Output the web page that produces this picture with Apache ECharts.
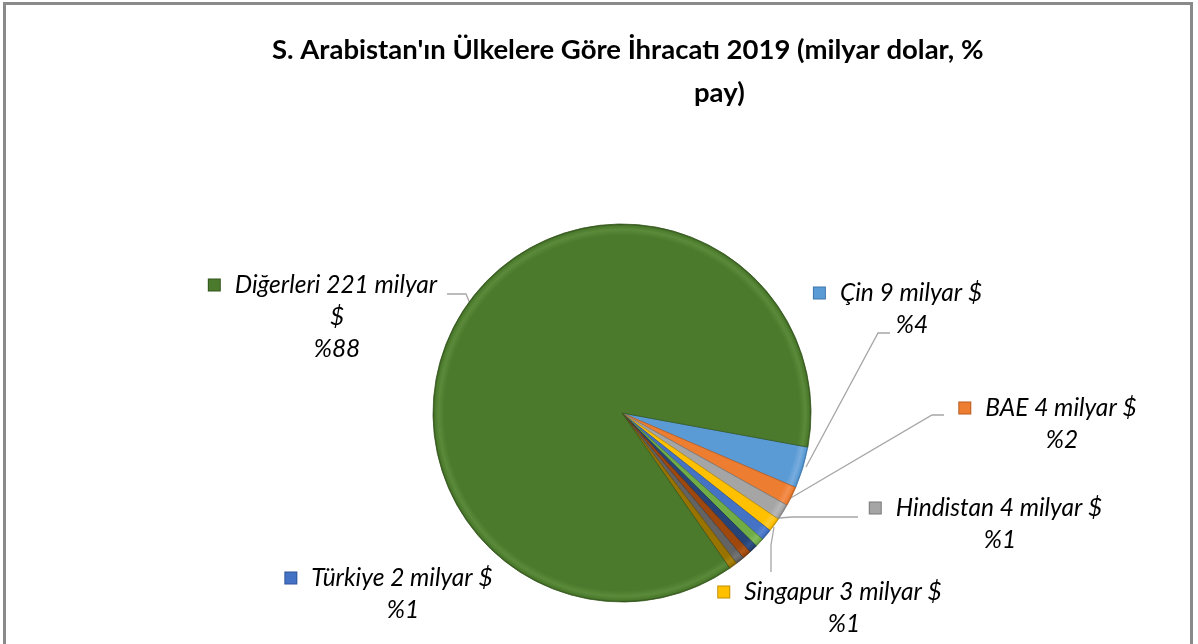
<!DOCTYPE html>
<html>
<head>
<meta charset="utf-8">
<script src="https://cdn.jsdelivr.net/npm/echarts@6/dist/echarts.min.js"></script>
<style>
  html, body { margin: 0; padding: 0; background: #fff; }
  #frame { position: absolute; left: 3px; top: 2px; width: 1190px; height: 650px; border-left: 3px solid #8a8a8a; border-top: 3px solid #8a8a8a; border-right: 3px solid #8a8a8a; box-sizing: border-box; }
  #chart { position: absolute; left: 0; top: 0; width: 1198px; height: 644px; }
</style>
</head>
<body>
<div id="frame"></div>
<div id="chart"></div>
<script>
// ---- data ----
const titleLines = ["S. Arabistan'ın Ülkelere Göre İhracatı 2019 (milyar dolar, %", "pay)"];
const categories = ['Çin', 'BAE', 'Hindistan', 'Singapur', 'Türkiye', 'Diğer ülke 1', 'Diğer ülke 2', 'Diğer ülke 3', 'Diğer ülke 4', 'Diğer ülke 5', 'Diğerleri'];
const values = [9.0, 4.2, 3.5, 3.0, 2.45, 1.95, 1.85, 1.9, 1.85, 1.8, 221.4];
const showLabel = [true, true, true, true, true, false, false, false, false, false, true];
const unit = 'milyar $';

// ---- styles ----
const colors = ['#5B9BD5', '#ED7D31', '#A5A5A5', '#FFC000', '#4472C4', '#70AD47', '#264478', '#9E480E', '#636363', '#997300', '#4b7a2c'];
const lights = ['#78acdd', '#f29050', '#b8b8b8', '#ffca30', '#5a84cf', '#82bb5c', '#32548a', '#b05818', '#757575', '#ab8410', '#5a8a3a'];
const borders = ['#3f78ad', '#b85d1f', '#7a7a7a', '#c09000', '#2f5597', '#4f7f31', '#18304f', '#6f320a', '#444444', '#6b5000', '#33561c'];

const CX = 622, CY = 413, R = 189;

// label placement (box centre x, first line centre y) and leader lines
const labelPlace = {
  0: { x: 898, y: 293, line: [[806, 467], [878, 333], [890, 333]] },
  1: { x: 1048, y: 408, line: [[789, 499], [932, 415], [944, 415]] },
  2: { x: 986, y: 508, line: [[779, 518], [792, 517], [858, 517]] },
  3: { x: 830, y: 592, line: [[774, 527], [771, 545], [771, 572]] },
  4: { x: 389, y: 578, line: null },
  10: { x: 323, y: 285, line: [[471, 306], [466, 294], [447, 294]], breakDollar: true }
};

const total = values.reduce((a, b) => a + b, 0);
const LH = 32;
const FS = 24.5;

const chart = echarts.init(document.getElementById('chart'), null, { renderer: 'canvas' });

const rich = { t: { fontFamily: 'Lato', fontStyle: 'italic', fontSize: FS, color: '#000', lineHeight: LH },
               gap: { width: 15, height: 10 },
               p: { fontFamily: 'Lato', fontStyle: 'italic', fontSize: FS, color: '#000', lineHeight: LH, padding: [0, 0, 0, 28] } };
colors.forEach((c, i) => {
  rich['k' + i] = { width: 11, height: 11, backgroundColor: c, borderColor: borders[i], borderWidth: 1 };
});

function sliceFill(i) {
  return {
    type: 'radial', x: CX, y: CY, r: R, global: true,
    colorStops: [
      { offset: 0, color: colors[i] },
      { offset: 0.94, color: colors[i] },
      { offset: 0.97, color: lights[i] },
      { offset: 0.99, color: colors[i] },
      { offset: 1, color: borders[i] }
    ]
  };
}

const data = categories.map((name, i) => ({
  name: name,
  value: values[i],
  itemStyle: { color: sliceFill(i), borderColor: borders[i], borderWidth: 0.8 },
  label: { show: showLabel[i] },
  labelLine: { show: showLabel[i] && labelPlace[i] && !!labelPlace[i].line }
}));

chart.setOption({
  animation: false,
  title: [
    { text: titleLines[0], left: 272, top: 36, padding: 0, textStyle: { fontFamily: 'Lato', fontWeight: 'bold', fontSize: 27.5, color: '#000' } },
    { text: titleLines[1], left: 694, top: 79, padding: 0, textStyle: { fontFamily: 'Lato', fontWeight: 'bold', fontSize: 27.5, color: '#000' } }
  ],
  series: [{
    type: 'pie',
    center: [CX, CY],
    radius: R,
    startAngle: -10.4,
    clockwise: true,
    avoidLabelOverlap: false,
    data: data,
    label: {
      position: 'outside',
      align: 'center',
      rich: rich,
      formatter: function (p) {
        const i = p.dataIndex;
        const pct = Math.round(p.value / total * 100);
        const v = Math.round(p.value);
        const place = labelPlace[i] || {};
        if (place.breakDollar) {
          return '{k' + i + '|}{gap|}{t|' + p.name + ' ' + v + ' milyar}\n{p|$}\n{p|%' + pct + '}';
        }
        return '{k' + i + '|}{gap|}{t|' + p.name + ' ' + v + ' ' + unit + '}\n{p|%' + pct + '}';
      }
    },
    labelLine: { lineStyle: { color: '#a6a6a6', width: 1.3 }, smooth: false },
    labelLayout: function (params) {
      const place = labelPlace[params.dataIndex];
      if (!place) return {};
      const out = { x: place.x, y: place.y - LH / 2, align: 'center', verticalAlign: 'top' };
      if (place.line) out.labelLinePoints = place.line;
      return out;
    }
  }]
});
</script>
</body>
</html>
